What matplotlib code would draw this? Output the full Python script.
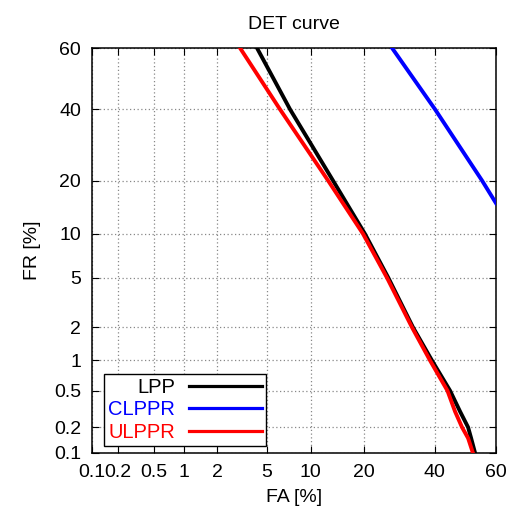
import math
import numpy as np
import matplotlib
matplotlib.use("Agg")
import matplotlib.pyplot as plt
from matplotlib.ticker import FixedLocator, FixedFormatter

plt.rcParams['font.family'] = ['Liberation Sans', 'DejaVu Sans']

# ---- data (percent) ----
lpp_fa = [4.23, 7.34, 13.67, 20.3, 26.2, 33.25, 39.1, 44.96, 48.25, 50.9, 51.9, 53.2]
lpp_fr = [60, 40, 20, 10, 5, 2, 1, 0.5, 0.3, 0.2, 0.15, 0.1]

clppr_fa = [27.2, 40.1, 55.5, 60.0]
clppr_fr = [60, 40, 20, 15.2]

ulppr_fa = [3.11, 6.25, 12.8, 19.86, 25.85, 32.95, 38.5, 44.1, 46.6, 48.9, 50.9, 52.5]
ulppr_fr = [60, 40, 20, 10, 5, 2, 1, 0.5, 0.3, 0.2, 0.15, 0.1]

tick_vals = [0.1, 0.2, 0.5, 1, 2, 5, 10, 20, 40, 60]
tick_labels = ["0.1", "0.2", "0.5", "1", "2", "5", "10", "20", "40", "60"]
series_names = ["LPP", "CLPPR", "ULPPR"]
series_colors = ["black", "blue", "red"]

# ---- probit (normal deviate) scale ----
_a = [-3.969683028665376e+01, 2.209460984245205e+02, -2.759285104469687e+02,
      1.383577518672690e+02, -3.066479806614716e+01, 2.506628277459239e+00]
_b = [-5.447609879822406e+01, 1.615858368580409e+02, -1.556989798598866e+02,
      6.680131188771972e+01, -1.328068155288572e+01]
_c = [-7.784894002430293e-03, -3.223964580411365e-01, -2.400758276161838e+00,
      -2.549732539343734e+00, 4.374664141464968e+00, 2.938163982698783e+00]
_d = [7.784695709041462e-03, 3.224671290700398e-01, 2.445134137142996e+00,
      3.754408661907416e+00]


def _ppf(p):
    p = np.clip(np.asarray(p, dtype=float), 1e-12, 1 - 1e-12)
    out = np.empty_like(p)
    plow = 0.02425
    lo = p < plow
    hi = p > 1 - plow
    mid = ~(lo | hi)
    q = np.sqrt(-2 * np.log(p[lo]))
    out[lo] = (((((_c[0]*q+_c[1])*q+_c[2])*q+_c[3])*q+_c[4])*q+_c[5]) / \
              ((((_d[0]*q+_d[1])*q+_d[2])*q+_d[3])*q+1)
    q = np.sqrt(-2 * np.log(1 - p[hi]))
    out[hi] = -(((((_c[0]*q+_c[1])*q+_c[2])*q+_c[3])*q+_c[4])*q+_c[5]) / \
               ((((_d[0]*q+_d[1])*q+_d[2])*q+_d[3])*q+1)
    q = p[mid] - 0.5
    r = q * q
    out[mid] = (((((_a[0]*r+_a[1])*r+_a[2])*r+_a[3])*r+_a[4])*r+_a[5])*q / \
               (((((_b[0]*r+_b[1])*r+_b[2])*r+_b[3])*r+_b[4])*r+1)
    return out


_erf = np.vectorize(math.erf)


def fwd(x):
    return _ppf(np.asarray(x, dtype=float) / 100.0)


def inv(z):
    z = np.asarray(z, dtype=float)
    return 100.0 * 0.5 * (1 + _erf(z / math.sqrt(2)))


fig = plt.figure(figsize=(5.16, 5.19), dpi=100)
ax = fig.add_axes([0.1783, 0.1272, 0.7829, 0.7803])
ax.set_xscale('function', functions=(fwd, inv))
ax.set_yscale('function', functions=(fwd, inv))

lw = 2.8
ax.plot(lpp_fa, lpp_fr, color=series_colors[0], lw=lw, label=series_names[0], zorder=3)
ax.plot(clppr_fa, clppr_fr, color=series_colors[1], lw=lw, label=series_names[1], zorder=3)
ax.plot(ulppr_fa, ulppr_fr, color=series_colors[2], lw=lw, label=series_names[2], zorder=4)

ax.set_xlim(0.1, 60)
ax.set_ylim(0.1, 60)

for axis in (ax.xaxis, ax.yaxis):
    axis.set_major_locator(FixedLocator(tick_vals))
    axis.set_major_formatter(FixedFormatter(tick_labels))
    axis.set_minor_locator(FixedLocator([]))

ax.tick_params(which='major', direction='in', top=True, right=True,
               length=5, width=0.8, labelsize=14, pad=8)
ax.grid(True, linestyle=(0, (1, 2)), color='#888888', linewidth=0.9)
for s in ax.spines.values():
    s.set_linewidth(1.1)

ax.set_title("DET curve", fontsize=14, pad=14)
ax.set_xlabel("FA [%]", fontsize=14, labelpad=6)
ax.set_ylabel("FR [%]", fontsize=14, labelpad=9)

leg = ax.legend(loc='lower left', bbox_to_anchor=(0.03, 0.017), markerfirst=False,
                prop={'size': 14.5}, frameon=True, fancybox=False, edgecolor='black',
                framealpha=1, labelcolor='linecolor', handlelength=3.6,
                borderpad=0.2, labelspacing=0.18, handletextpad=0.7,
                borderaxespad=0)
leg.get_frame().set_linewidth(1.0)
for t in leg.get_texts():
    t.set_ha('right')
for h in leg.get_lines():
    h.set_linewidth(2.3)
leg.set_zorder(5)

fig.savefig("out.png", dpi=100)
